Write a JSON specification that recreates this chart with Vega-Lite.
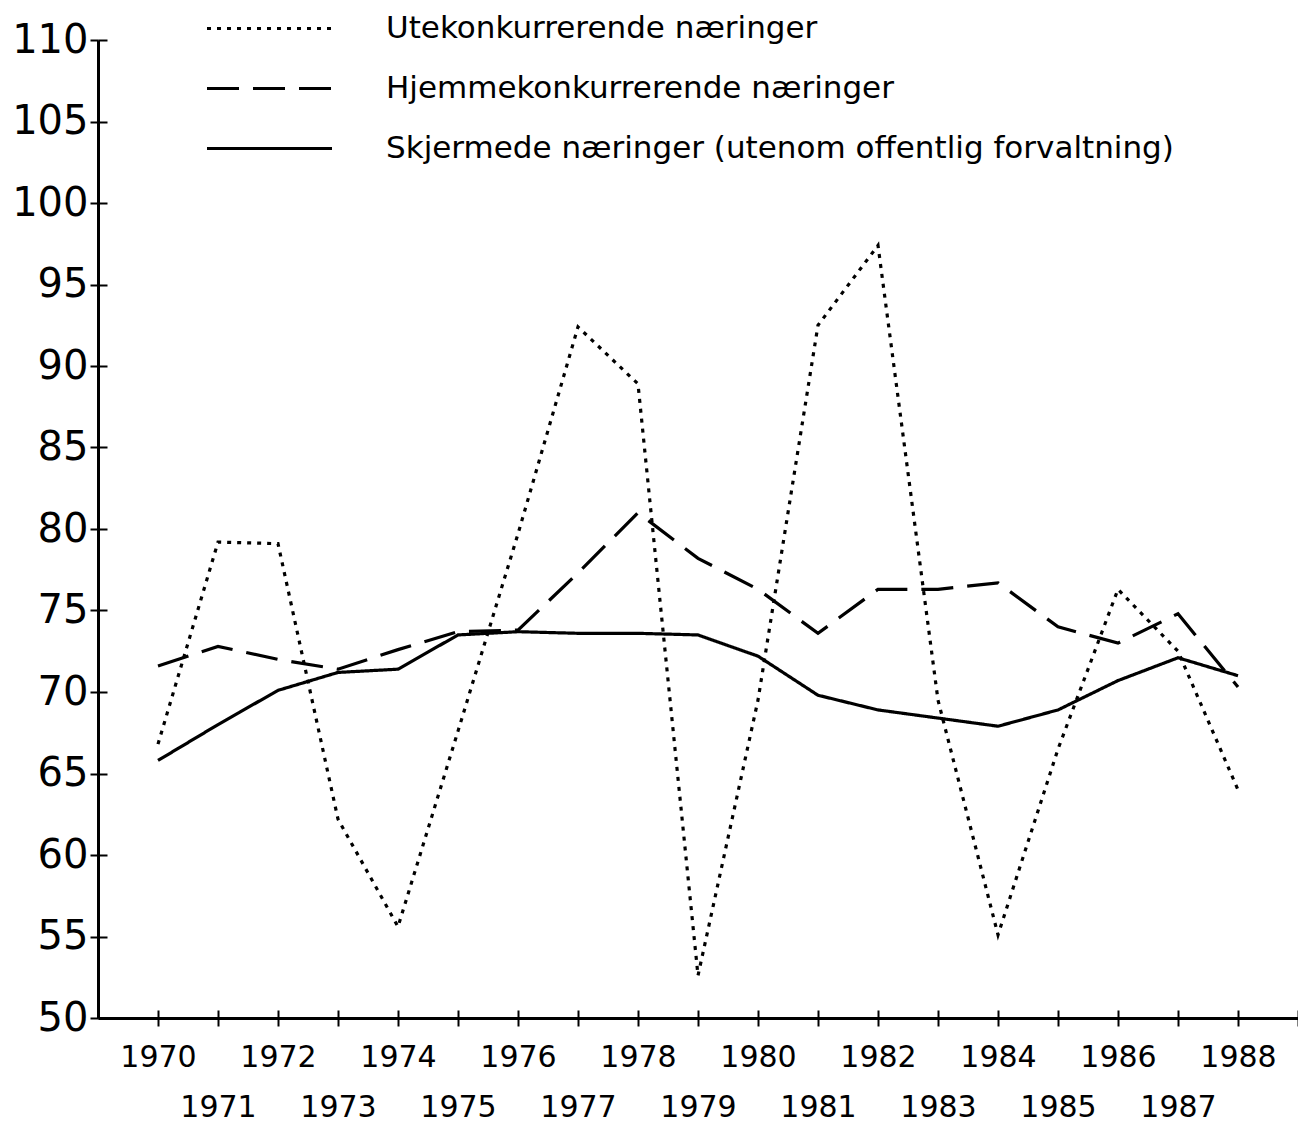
{
  "$schema": "https://vega.github.io/schema/vega-lite/v6.json",
  "width": 1200,
  "height": 978,
  "autosize": "none",
  "padding": {"left": 98, "top": 40, "right": 0, "bottom": 110},
  "background": "white",
  "config": {
    "view": {"stroke": null},
    "font": "DejaVu Sans",
    "axis": {"grid": false, "domainColor": "black", "tickColor": "black", "labelColor": "black", "title": null}
  },
  "data": {
    "values": [
      {"year": 1970, "series": "Utekonkurrerende næringer", "value": 66.8},
      {"year": 1971, "series": "Utekonkurrerende næringer", "value": 79.2},
      {"year": 1972, "series": "Utekonkurrerende næringer", "value": 79.1},
      {"year": 1973, "series": "Utekonkurrerende næringer", "value": 62.2},
      {"year": 1974, "series": "Utekonkurrerende næringer", "value": 55.6},
      {"year": 1975, "series": "Utekonkurrerende næringer", "value": 67.6},
      {"year": 1976, "series": "Utekonkurrerende næringer", "value": 79.7},
      {"year": 1977, "series": "Utekonkurrerende næringer", "value": 92.4},
      {"year": 1978, "series": "Utekonkurrerende næringer", "value": 88.9},
      {"year": 1979, "series": "Utekonkurrerende næringer", "value": 52.6},
      {"year": 1980, "series": "Utekonkurrerende næringer", "value": 69.5},
      {"year": 1981, "series": "Utekonkurrerende næringer", "value": 92.5},
      {"year": 1982, "series": "Utekonkurrerende næringer", "value": 97.4},
      {"year": 1983, "series": "Utekonkurrerende næringer", "value": 69.5},
      {"year": 1984, "series": "Utekonkurrerende næringer", "value": 55.1},
      {"year": 1985, "series": "Utekonkurrerende næringer", "value": 66.5},
      {"year": 1986, "series": "Utekonkurrerende næringer", "value": 76.3},
      {"year": 1987, "series": "Utekonkurrerende næringer", "value": 72.5},
      {"year": 1988, "series": "Utekonkurrerende næringer", "value": 64.0},
      {"year": 1970, "series": "Hjemmekonkurrerende næringer", "value": 71.6},
      {"year": 1971, "series": "Hjemmekonkurrerende næringer", "value": 72.8},
      {"year": 1972, "series": "Hjemmekonkurrerende næringer", "value": 72.0},
      {"year": 1973, "series": "Hjemmekonkurrerende næringer", "value": 71.4},
      {"year": 1974, "series": "Hjemmekonkurrerende næringer", "value": 72.6},
      {"year": 1975, "series": "Hjemmekonkurrerende næringer", "value": 73.7},
      {"year": 1976, "series": "Hjemmekonkurrerende næringer", "value": 73.8},
      {"year": 1977, "series": "Hjemmekonkurrerende næringer", "value": 77.3},
      {"year": 1978, "series": "Hjemmekonkurrerende næringer", "value": 81.0},
      {"year": 1979, "series": "Hjemmekonkurrerende næringer", "value": 78.2},
      {"year": 1980, "series": "Hjemmekonkurrerende næringer", "value": 76.3},
      {"year": 1981, "series": "Hjemmekonkurrerende næringer", "value": 73.6},
      {"year": 1982, "series": "Hjemmekonkurrerende næringer", "value": 76.3},
      {"year": 1983, "series": "Hjemmekonkurrerende næringer", "value": 76.3},
      {"year": 1984, "series": "Hjemmekonkurrerende næringer", "value": 76.7},
      {"year": 1985, "series": "Hjemmekonkurrerende næringer", "value": 74.0},
      {"year": 1986, "series": "Hjemmekonkurrerende næringer", "value": 73.0},
      {"year": 1987, "series": "Hjemmekonkurrerende næringer", "value": 74.8},
      {"year": 1988, "series": "Hjemmekonkurrerende næringer", "value": 70.3},
      {"year": 1970, "series": "Skjermede næringer (utenom offentlig forvaltning)", "value": 65.8},
      {"year": 1971, "series": "Skjermede næringer (utenom offentlig forvaltning)", "value": 68.0},
      {"year": 1972, "series": "Skjermede næringer (utenom offentlig forvaltning)", "value": 70.1},
      {"year": 1973, "series": "Skjermede næringer (utenom offentlig forvaltning)", "value": 71.2},
      {"year": 1974, "series": "Skjermede næringer (utenom offentlig forvaltning)", "value": 71.4},
      {"year": 1975, "series": "Skjermede næringer (utenom offentlig forvaltning)", "value": 73.5},
      {"year": 1976, "series": "Skjermede næringer (utenom offentlig forvaltning)", "value": 73.7},
      {"year": 1977, "series": "Skjermede næringer (utenom offentlig forvaltning)", "value": 73.6},
      {"year": 1978, "series": "Skjermede næringer (utenom offentlig forvaltning)", "value": 73.6},
      {"year": 1979, "series": "Skjermede næringer (utenom offentlig forvaltning)", "value": 73.5},
      {"year": 1980, "series": "Skjermede næringer (utenom offentlig forvaltning)", "value": 72.2},
      {"year": 1981, "series": "Skjermede næringer (utenom offentlig forvaltning)", "value": 69.8},
      {"year": 1982, "series": "Skjermede næringer (utenom offentlig forvaltning)", "value": 68.9},
      {"year": 1983, "series": "Skjermede næringer (utenom offentlig forvaltning)", "value": 68.4},
      {"year": 1984, "series": "Skjermede næringer (utenom offentlig forvaltning)", "value": 67.9},
      {"year": 1985, "series": "Skjermede næringer (utenom offentlig forvaltning)", "value": 68.9},
      {"year": 1986, "series": "Skjermede næringer (utenom offentlig forvaltning)", "value": 70.7},
      {"year": 1987, "series": "Skjermede næringer (utenom offentlig forvaltning)", "value": 72.1},
      {"year": 1988, "series": "Skjermede næringer (utenom offentlig forvaltning)", "value": 71.0}
    ]
  },
  "layer": [
    {
      "mark": {"type": "line", "opacity": 0},
      "encoding": {
        "x": {
          "field": "year", "type": "quantitative",
          "scale": {"domain": [1969, 1989], "nice": false, "zero": false},
          "axis": {"orient": "bottom", "values": [1970,1971,1972,1973,1974,1975,1976,1977,1978,1979,1980,1981,1982,1983,1984,1985,1986,1987,1988,1989], "tickSize": -8, "tickWidth": 2, "labels": false, "domain": false}
        },
        "y": {
          "field": "value", "type": "quantitative",
          "scale": {"domain": [50, 110], "nice": false, "zero": false},
          "axis": {"orient": "left", "values": [50,55,60,65,70,75,80,85,90,95,100,105,110], "tickSize": -9, "tickWidth": 2, "labels": false, "domain": false}
        },
        "detail": {"field": "series", "type": "nominal"}
      }
    },
    {
      "mark": {"type": "line", "color": "black", "strokeWidth": 3.2},
      "encoding": {
        "x": {
          "field": "year", "type": "quantitative",
          "scale": {"domain": [1969, 1989], "nice": false, "zero": false},
          "axis": {
            "orient": "bottom",
            "values": [1970,1971,1972,1973,1974,1975,1976,1977,1978,1979,1980,1981,1982,1983,1984,1985,1986,1987,1988,1989],
            "format": "d",
            "labelExpr": "datum.value == 1989 ? '' : (datum.value % 2 == 0 ? [datum.label] : ['', datum.label])",
            "tickSize": 8, "tickWidth": 2, "domainWidth": 3,
            "labelFontSize": 30, "labelPadding": 16, "labelLineHeight": 50,
            "labelBaseline": "top", "labelFlush": false, "labelOverlap": false
          }
        },
        "y": {
          "field": "value", "type": "quantitative",
          "scale": {"domain": [50, 110], "nice": false, "zero": false},
          "axis": {
            "orient": "left",
            "values": [50,55,60,65,70,75,80,85,90,95,100,105,110],
            "tickSize": 8, "tickWidth": 2, "domainWidth": 3,
            "labelFontSize": 40, "labelPadding": 2, "labelFlush": false, "labelOverlap": false
          }
        },
        "strokeDash": {
          "field": "series", "type": "nominal",
          "scale": {
            "domain": ["Utekonkurrerende næringer", "Hjemmekonkurrerende næringer", "Skjermede næringer (utenom offentlig forvaltning)"],
            "range": [[4, 6], [32, 14], [1, 0]]
          },
          "legend": {
            "title": null,
            "orient": "none",
            "legendX": 145,
            "legendY": -38,
            "padding": 0,
            "symbolType": "M-2.5,0H2.5",
            "symbolSize": 2500,
            "symbolStrokeWidth": 3,
            "symbolStrokeColor": "black",
            "labelFontSize": 31,
            "labelColor": "black",
            "labelOffset": 90,
            "labelLimit": 1200,
            "rowPadding": 18
          }
        }
      }
    }
  ],
  "resolve": {"axis": {"x": "independent", "y": "independent"}}
}
